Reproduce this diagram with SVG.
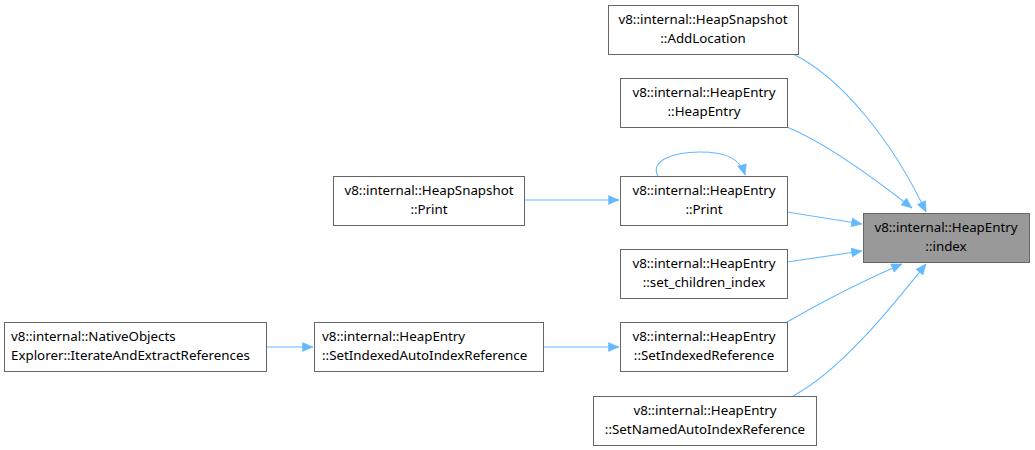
<svg xmlns="http://www.w3.org/2000/svg" width="1035" height="450" viewBox="0 0 1035 450">
<style>
.n rect{fill:#fff;stroke:#666;stroke-width:1}
.n.h rect{fill:#999}
text{font-family:"Noto Sans","DejaVu Sans",sans-serif;font-size:13.33px;fill:#000}
.c{text-anchor:middle}
.e path{fill:none;stroke:#63b8ff;stroke-width:1.1;marker-end:url(#a)}
</style>
<defs>
<marker id="a" markerUnits="userSpaceOnUse" markerWidth="12" markerHeight="10" refX="11" refY="5" orient="auto">
<path d="M0.5,0.5 L11,5 L0.5,9.5 z" fill="#63b8ff" stroke="#63b8ff" stroke-width="0.5"/>
</marker>
</defs>
<rect width="1035" height="450" fill="#fff"/>
<g class="e">
<path d="M793,54 C842,78 893,142 926,212"/>
<path d="M787,127 C826,143 870,175 912,208"/>
<path d="M787,212 L862,224"/>
<path d="M787,262 L862,251"/>
<path d="M787,322 C820,303 860,282 902,264"/>
<path d="M793,396 C842,370 893,305 926,264"/>
<path d="M658,176 C650,162 670,152 700,152 C725,152 740,158 745,175"/>
<path d="M524,200 L619,200"/>
<path d="M543,347 L619,347"/>
<path d="M266,347 L313,347"/>
</g>
<g id="index" class="n h"><rect x="863.5" y="213.5" width="166" height="49"/><text class="c" x="946" y="232">v8::internal::HeapEntry</text><text class="c" x="946" y="251">::index</text></g>
<g id="addloc" class="n"><rect x="608.5" y="5.5" width="190" height="49"/><text class="c" x="703" y="24">v8::internal::HeapSnapshot</text><text class="c" x="703" y="43">::AddLocation</text></g>
<g id="heapentry" class="n"><rect x="620.5" y="78.5" width="167" height="49"/><text class="c" x="704" y="97">v8::internal::HeapEntry</text><text class="c" x="704" y="116">::HeapEntry</text></g>
<g id="eprint" class="n"><rect x="620.5" y="176.5" width="167" height="49"/><text class="c" x="704" y="195">v8::internal::HeapEntry</text><text class="c" x="704" y="214">::Print</text></g>
<g id="setchildren" class="n"><rect x="620.5" y="249.5" width="167" height="49"/><text class="c" x="704" y="268">v8::internal::HeapEntry</text><text class="c" x="704" y="287">::set_children_index</text></g>
<g id="setindexed" class="n"><rect x="620.5" y="322.5" width="167" height="49"/><text class="c" x="704" y="341">v8::internal::HeapEntry</text><text class="c" x="704" y="360">::SetIndexedReference</text></g>
<g id="setnamed" class="n"><rect x="593.5" y="396.5" width="223" height="49"/><text class="c" x="705" y="415">v8::internal::HeapEntry</text><text class="c" x="705" y="434">::SetNamedAutoIndexReference</text></g>
<g id="sprint" class="n"><rect x="333.5" y="176.5" width="191" height="49"/><text class="c" x="429" y="195">v8::internal::HeapSnapshot</text><text class="c" x="429" y="214">::Print</text></g>
<g id="setindexedauto" class="n"><rect x="314.5" y="322.5" width="229" height="49"/><text x="322" y="341">v8::internal::HeapEntry</text><text x="322" y="360">::SetIndexedAutoIndexReference</text></g>
<g id="native" class="n"><rect x="4.5" y="322.5" width="262" height="49"/><text x="11" y="341">v8::internal::NativeObjects</text><text x="11" y="360">Explorer::IterateAndExtractReferences</text></g>
</svg>
